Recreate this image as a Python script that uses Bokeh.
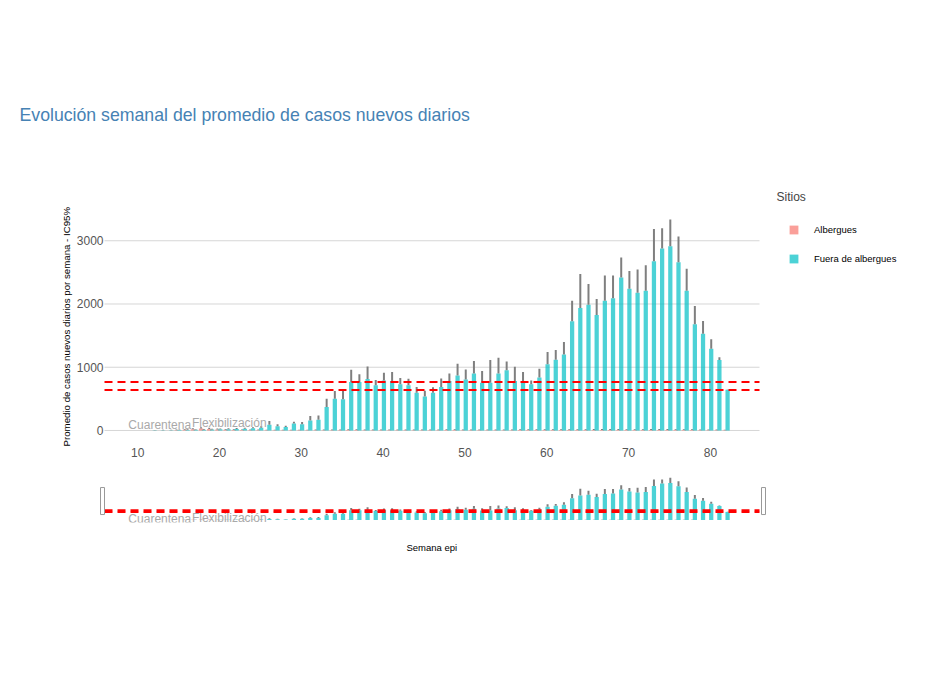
from bokeh.plotting import figure
from bokeh.models import (ColumnDataSource, Legend, LegendItem, Label, FixedTicker,
                          Range1d, Title)
from bokeh.layouts import column
from bokeh.transform import dodge
from bokeh.embed import file_html
from bokeh.resources import INLINE

# ---------------- data ----------------
weeks_fuera = list(range(12, 83))
fuera_mean = [2, 3, 4, 6, 8, 10, 12, 15, 18, 20, 24, 28, 34, 45,
              90, 65, 55, 110, 100, 158, 170, 372, 500, 492,
              768, 768, 816, 715, 790, 784, 731, 715, 595, 537,
              595, 688, 781, 871, 808, 900, 754, 754, 903, 951,
              781, 781, 733, 839, 1047, 1119, 1203, 1726, 1937, 1989,
              1826, 2053, 2090, 2417, 2243, 2179, 2211, 2675, 2876, 2913,
              2660, 2211, 1678, 1530, 1293, 1113, 644]
fuera_upper = [8, 10, 12, 14, 18, 20, 24, 28, 32, 35, 40, 45, 52, 68,
               150, 100, 75, 140, 135, 230, 235, 500, 625, 630,
               960, 890, 1010, 800, 912, 923, 830, 818, 688, 630,
               685, 820, 903, 1054, 964, 1100, 940, 1115, 1152, 1089,
               1007, 926, 792, 978, 1240, 1272, 1398, 2053, 2475, 2317,
               2079, 2449, 2449, 2734, 2522, 2544, 2612, 3187, 3198, 3335,
               3066, 2559, 1968, 1731, 1441, 1156, 648]

weeks_alb = list(range(15, 83))
alb_mean = [5, 10, 18, 30, 25, 15, 10, 8, 6, 5, 5, 4, 4, 3, 3, 3, 3, 4, 4, 5,
            5, 6, 6, 5, 5, 5, 4, 4, 4, 4, 5, 5, 5, 6, 6, 5, 5, 5, 4, 4,
            5, 5, 6, 6, 7, 7, 6, 6, 7, 7, 7, 8, 8, 8, 8, 7, 7, 7, 8, 8,
            8, 7, 6, 6, 5, 5, 4, 3]
alb_upper = [15, 22, 35, 50, 42, 30, 22, 18, 16, 14, 14, 12, 12, 10, 10, 10, 12, 14, 14, 16,
             16, 18, 18, 16, 16, 16, 14, 14, 14, 14, 16, 16, 16, 18, 18, 16, 16, 16, 14, 14,
             16, 16, 18, 18, 20, 20, 18, 18, 20, 20, 20, 22, 22, 22, 22, 20, 20, 20, 22, 22,
             22, 20, 18, 18, 16, 16, 14, 12]

ref_levels = [640, 765]
annot_text = ["Cuarentena", "Flexibilización"]
annot_week = [12.7, 21.2]
annot_y = [90, 125]

x_ticks = [10, 20, 30, 40, 50, 60, 70, 80]
y_ticks = [0, 1000, 2000, 3000]
x_lim = (5.95, 86.0)
y_lim = (-190, 3510)

series_names = ["Albergues", "Fuera de albergues"]
series_colors = ["#F8766D", "#00BFC4"]

title_text = "Evolución semanal del promedio de casos nuevos diarios"
y_label = "Promedio de casos nuevos diarios por semana - IC95%"
x_label = "Semana epi"
legend_title = "Sitios"

FONT = "Liberation Sans"

src_f = ColumnDataSource(dict(week=weeks_fuera, mean=fuera_mean, upper=fuera_upper))
src_a = ColumnDataSource(dict(week=weeks_alb, mean=alb_mean, upper=alb_upper))
src_t = ColumnDataSource(dict(x=annot_week, y=annot_y, text=annot_text))

OFF_F = 0.1
OFF_A = -0.25
BW = 0.52
ERR_COLOR = "#7f7f7f"

# ---------------- geometry (pixels) ----------------
W = 926
L = 99                     # left border shared by both figures
DATA_LEFT = 5              # gap between frame left and x_lim[0]
DATA_W = 655               # pixel width of x_lim
FRAME_W = W - L
pxw = DATA_W / (x_lim[1] - x_lim[0])
x_start = x_lim[0] - DATA_LEFT / pxw
x_end = x_start + FRAME_W / pxw

MAIN_DATA_H = 234          # pixels covering y_lim
EXTRA_TOP = 24             # frame room above y_lim (for the legend title)
pyu = MAIN_DATA_H / (y_lim[1] - y_lim[0])
TOP = 184


def draw_data(fig):
    ra = fig.vbar(x=dodge("week", OFF_A, range=fig.x_range), top="mean", bottom=0,
                  width=BW, source=src_a, fill_color=series_colors[0], fill_alpha=0.7,
                  line_alpha=0)
    fig.segment(x0=dodge("week", OFF_A, range=fig.x_range), y0="mean",
                x1=dodge("week", OFF_A, range=fig.x_range), y1="upper",
                source=src_a, line_color=ERR_COLOR, line_width=2)
    rf = fig.vbar(x=dodge("week", OFF_F, range=fig.x_range), top="mean", bottom=0,
                  width=BW, source=src_f, fill_color=series_colors[1], fill_alpha=0.7,
                  line_alpha=0)
    fig.segment(x0=dodge("week", OFF_F, range=fig.x_range), y0="mean",
                x1=dodge("week", OFF_F, range=fig.x_range), y1="upper",
                source=src_f, line_color=ERR_COLOR, line_width=2)
    for lv in ref_levels:
        fig.segment(x0=[x_lim[0]], y0=[lv], x1=[x_lim[1]], y1=[lv],
                    line_color="red", line_width=2, line_dash="8 5")
    fig.text(x="x", y="y", text="text", source=src_t, text_align="center",
             text_baseline="middle", text_font={"value": FONT},
             text_font_size="12px", text_color="#a9a9a9")
    return ra, rf


# ---------------- main figure ----------------
FRAME_H = MAIN_DATA_H + EXTRA_TOP
p = figure(width=W, height=TOP + FRAME_H + 33,
           x_range=Range1d(x_start, x_end),
           y_range=Range1d(y_lim[0], y_lim[1] + EXTRA_TOP / pyu),
           title=title_text,
           min_border_left=L, min_border_right=0, min_border_top=TOP,
           min_border_bottom=33, output_backend="svg", toolbar_location=None,
           outline_line_color=None, background_fill_color="white")

p.title.align = "left"
p.title.vertical_align = "bottom"
p.title.offset = 20 - (L + 1)
p.title.standoff = 119
p.title.text_font = FONT
p.title.text_font_size = "17.7px"
p.title.text_font_style = "normal"
p.title.text_color = "#4682B4"

# horizontal grid lines limited to the data area
for t in y_ticks:
    p.segment(x0=[x_lim[0]], y0=[t], x1=[x_lim[1]], y1=[t], line_color="#d6d6d6",
              line_width=1, level="underlay")

ra, rf = draw_data(p)

p.grid.visible = False
p.xaxis.ticker = FixedTicker(ticks=x_ticks)
p.yaxis.ticker = FixedTicker(ticks=y_ticks)
for ax in (p.xaxis[0], p.yaxis[0]):
    ax.axis_line_color = None
    ax.major_tick_line_color = None
    ax.minor_tick_line_color = None
    ax.major_tick_out = 0
    ax.major_tick_in = 0
    ax.major_label_text_font = FONT
    ax.major_label_text_font_size = "12px"
    ax.major_label_text_color = "#555555"
p.xaxis.major_label_standoff = 5
p.yaxis.major_label_standoff = -(DATA_LEFT - 1)

p.add_layout(Title(text=y_label, align="left", vertical_align="bottom", offset=-4,
                   standoff=3, text_font=FONT, text_font_size="9.7px",
                   text_font_style="normal", text_color="black"), "left")

legend = Legend(items=[LegendItem(label=series_names[0], renderers=[ra]),
                       LegendItem(label=series_names[1], renderers=[rf])],
                location=(789 - (L + 1), 443 - 264.5),
                orientation="vertical", padding=0, margin=0,
                spacing=18, glyph_width=11, glyph_height=11, label_height=11,
                label_standoff=15, label_text_font=FONT,
                label_text_font_size="9.5px", label_text_color="black",
                background_fill_alpha=0, border_line_alpha=0)
p.add_layout(legend, "center")
p.add_layout(Label(x=777 - (L + 1), y=443 - 197, x_units="screen", y_units="screen",
                   text=legend_title, text_font=FONT, text_font_size="12px",
                   text_color="#444444", text_baseline="middle", text_align="left"))

# ---------------- range-slider figure ----------------
S_FRAME_H = 47
S_BOTTOM = 58
s = figure(width=W, height=S_FRAME_H + S_BOTTOM,
           x_range=Range1d(x_start, x_end), y_range=Range1d(*y_lim), title=None,
           min_border_left=L, min_border_right=0,
           min_border_top=0, min_border_bottom=S_BOTTOM,
           x_axis_type=None, y_axis_type=None,
           output_backend="svg", toolbar_location=None, outline_line_color=None)
s.grid.visible = False
draw_data(s)
s.rect(x=[x_lim[0] - 2 / pxw, x_lim[1] + 4 / pxw], y=[1500, 1500],
       width=4, height=27, width_units="screen", height_units="screen",
       fill_color="white", line_color="#999999", line_width=1)
# x-axis title, centred under the data area
s.add_layout(Title(text=x_label, align="left", vertical_align="top",
                   offset=DATA_LEFT + DATA_W / 2 - 25.5, standoff=39,
                   text_font=FONT, text_font_size="9.5px", text_font_style="normal",
                   text_color="black"), "below")

layout = column(p, s, spacing=0)
open("out.html", "w").write(file_html(layout, INLINE))
